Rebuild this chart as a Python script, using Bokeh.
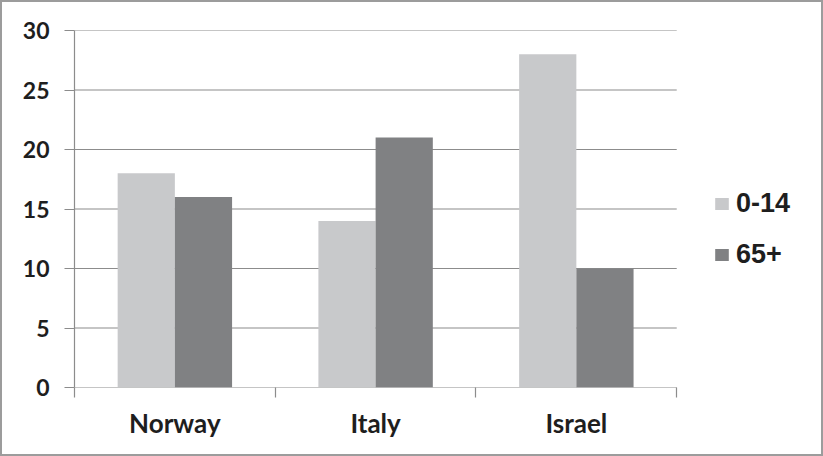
from bokeh.plotting import figure
from bokeh.models import ColumnDataSource, FixedTicker, Legend, LegendItem, Range1d
from bokeh.embed import file_html
from bokeh.resources import INLINE

countries = ["Norway", "Italy", "Israel"]
age_0_14 = [18, 14, 28]
age_65_plus = [16, 21, 10]
series_names = ["0-14", "65+"]
y_ticks = [0, 5, 10, 15, 20, 25, 30]

light = "#c8c9cb"
dark = "#808183"
grid_col = "#8c8c8c"

# layout (pixels)
W, H = 823, 456
left, right, top, bottom = 72, 4, 28, 71
cat_px = 599  # pixel width that the categories span
frame_w = W - 4 - left - right
n = len(countries)
x_end = n * frame_w / cat_px

centers = [i + 0.5 for i in range(n)]
bar_w = 0.285
src = ColumnDataSource(dict(
    xa=[c - bar_w / 2 for c in centers],
    xb=[c + bar_w / 2 for c in centers],
    a=age_0_14,
    b=age_65_plus,
))
grid_src = ColumnDataSource(dict(x0=[0] * len(y_ticks), x1=[n] * len(y_ticks), y=y_ticks))

p = figure(width=W, height=H, output_backend="svg", toolbar_location=None,
           x_range=Range1d(0, x_end), y_range=Range1d(0, 30),
           min_border_left=left, min_border_right=right, min_border_top=top, min_border_bottom=bottom)
p.styles = {"border": "2px solid #9c9c9c", "box-sizing": "border-box"}

p.segment(x0="x0", x1="x1", y0="y", y1="y", source=grid_src, line_color=grid_col, line_width=1.2)
r1 = p.vbar(x="xa", top="a", width=bar_w, source=src, fill_color=light, line_color=None)
r2 = p.vbar(x="xb", top="b", width=bar_w, source=src, fill_color=dark, line_color=None)

p.outline_line_color = None
p.background_fill_color = "white"
p.border_fill_color = "white"
p.xgrid.grid_line_color = None
p.ygrid.grid_line_color = None

yax = p.yaxis[0]
yax.ticker = FixedTicker(ticks=y_ticks)
yax.axis_line_color = grid_col
yax.axis_line_width = 1.2
yax.major_tick_line_color = grid_col
yax.major_tick_line_width = 1.2
yax.major_tick_out = 10
yax.major_tick_in = 0
yax.minor_tick_line_color = None
yax.major_label_text_font = "Lato"
yax.major_label_text_font_style = "bold"
yax.major_label_text_font_size = "23px"
yax.major_label_text_color = "#1e1e1e"
yax.major_label_standoff = 15

xax = p.xaxis[0]
xax.ticker = FixedTicker(ticks=centers, minor_ticks=list(range(n + 1)))
xax.major_label_overrides = {c: name for c, name in zip(centers, countries)}
xax.axis_line_color = None
xax.major_tick_line_color = None
xax.minor_tick_line_color = grid_col
xax.minor_tick_line_width = 1.2
xax.minor_tick_out = 10
xax.minor_tick_in = 0
xax.major_label_text_font = "Lato"
xax.major_label_text_font_style = "bold"
xax.major_label_text_font_size = "26px"
xax.major_label_text_color = "#1e1e1e"
xax.major_label_standoff = 9

legend = Legend(items=[LegendItem(label=series_names[0], renderers=[r1]),
                       LegendItem(label=series_names[1], renderers=[r2])],
                location=(639, 117))
legend.background_fill_alpha = 0
legend.border_line_color = None
legend.margin = 0
legend.padding = 5
legend.label_text_font = "Liberation Sans"
legend.label_text_font_style = "bold"
legend.label_text_font_size = "27px"
legend.label_text_color = "#1e1e1e"
legend.glyph_width = 17
legend.glyph_height = 15
legend.label_height = 30
legend.spacing = 20
legend.label_standoff = 6
p.add_layout(legend, "center")

open("out.html", "w").write(file_html(p, INLINE))
